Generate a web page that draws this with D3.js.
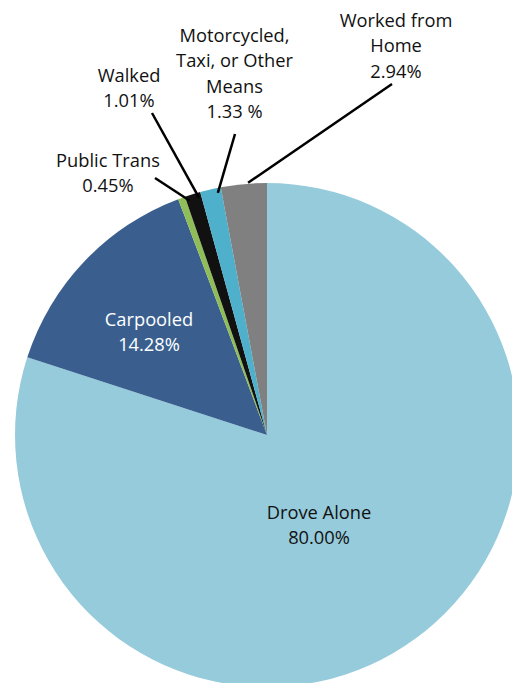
<!DOCTYPE html>
<html><head><meta charset="utf-8">
<script src="https://cdn.jsdelivr.net/npm/d3@7"></script>
<style>html,body{margin:0;padding:0;background:#fff;overflow:hidden}</style>
</head><body>
<svg id="chart" width="512" height="683"></svg>
<script>
const categories = ["Drove Alone","Carpooled","Public Trans","Walked","Motorcycled, Taxi, or Other Means","Worked from Home"];
const values = [80.00, 14.28, 0.45, 1.01, 1.33, 2.94];
const valueLabels = ["80.00%","14.28%","0.45%","1.01%","1.33 %","2.94%"];
const labelLines = [["Drove Alone"],["Carpooled"],["Public Trans"],["Walked"],["Motorcycled,","Taxi, or Other","Means"],["Worked from","Home"]];
const colors = ["#96cbdc","#3a5f8f","#8fbd57","#111111","#4fb0cc","#808080"];
const textColors = ["#111","#fff","#111","#111","#111","#111"];

const svg = d3.select("#chart");
const cx = 267, cy = 435, R = 252;
const FONT = "'Open Sans', sans-serif", FS = 18.3, LH = 25.3;
const g = svg.append("g").attr("transform", `translate(${cx},${cy})`);
const pie = d3.pie().sort(null).value(d => d)(values);
const arc = d3.arc().innerRadius(0).outerRadius(R);
g.selectAll("path").data(pie).enter().append("path")
  .attr("d", arc).attr("fill", (d,i) => colors[i]);

// label placement (x center, first baseline) and leader-line settings, relative to svg
const labelPos = [
  {x:319, y:519, inside:true},
  {x:149, y:326, inside:true},
  {x:108, y:167, lx:155, ly:178, r:247, da:1.5},
  {x:129, y:82,  lx:152, ly:113, r:247, da:1.2},
  {x:234.5, y:42, lx:235, ly:134, r:247, da:1.5},
  {x:396, y:27,  lx:392, ly:84,  r:253, da:1}
];
pie.forEach((d,i) => {
  const p = labelPos[i];
  const lines = labelLines[i].concat([valueLabels[i]]);
  const t = svg.append("text").attr("text-anchor","middle")
    .attr("font-family", FONT).attr("font-size", FS).attr("fill", textColors[i]);
  lines.forEach((s,k) => t.append("tspan").attr("x", p.x).attr("y", p.y + k*LH).text(s));
  if (!p.inside) {
    const a = (d.startAngle + d.endAngle)/2 + p.da*Math.PI/180;
    const ex = cx + p.r*Math.sin(a), ey = cy - p.r*Math.cos(a);
    svg.append("line").attr("x1", p.lx).attr("y1", p.ly).attr("x2", ex).attr("y2", ey)
      .attr("stroke", "#000").attr("stroke-width", 2.5);
  }
});
</script>
</body></html>
